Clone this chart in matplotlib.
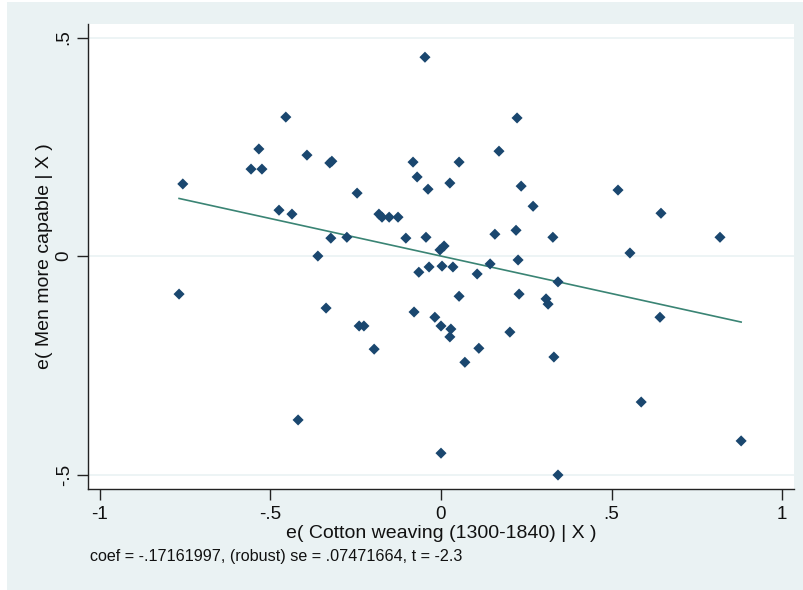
import numpy as np
import matplotlib
matplotlib.use('Agg')
from matplotlib import pyplot as plt
from matplotlib.patches import Rectangle

plt.rcParams['font.family'] = ['Liberation Sans', 'DejaVu Sans']

# residuals
x_res = [-0.757, -0.768, -0.557, -0.525, -0.534, -0.455, -0.393, -0.475, -0.437, -0.361,
         -0.326, -0.320, -0.246, -0.323, -0.276, -0.182, -0.173, -0.152, -0.126, -0.103,
         -0.082, -0.070, -0.038, -0.047, -0.044, -0.003, 0.009, 0.026, 0.053, -0.065,
         -0.035, 0.003, 0.035, 0.106, 0.170, 0.223, 0.235, 0.270, 0.158, 0.220,
         0.328, 0.519, 0.554, 0.645, 0.818, 0.144, 0.226, 0.343, 0.053, 0.229,
         0.308, 0.314, 0.202, 0.331, 0.642, 0.587, 0.880, 0.000, 0.343, -0.337,
         -0.240, -0.226, -0.196, -0.419, -0.079, -0.018, 0.000, 0.029, 0.026, 0.070,
         0.111]
y_res = [0.165, -0.087, 0.199, 0.199, 0.245, 0.318, 0.231, 0.105, 0.096, 0.000,
         0.213, 0.217, 0.144, 0.041, 0.043, 0.096, 0.089, 0.089, 0.089, 0.041,
         0.215, 0.181, 0.153, 0.455, 0.043, 0.014, 0.023, 0.167, 0.215, -0.037,
         -0.025, -0.023, -0.025, -0.041, 0.240, 0.316, 0.160, 0.114, 0.050, 0.059,
         0.043, 0.151, 0.007, 0.098, 0.043, -0.018, -0.009, -0.059, -0.092, -0.087,
         -0.098, -0.110, -0.174, -0.231, -0.140, -0.334, -0.423, -0.451, -0.501, -0.119,
         -0.160, -0.160, -0.213, -0.375, -0.128, -0.140, -0.160, -0.167, -0.185, -0.243,
         -0.211]

coef = -0.17161997
se = 0.07471664
tstat = -2.3

xticks = [-1, -0.5, 0, 0.5, 1]
xtick_labels = ['-1', '-.5', '0', '.5', '1']
yticks = [-0.5, 0, 0.5]
ytick_labels = ['-.5', '0', '.5']

bg = '#eaf2f3'
fig = plt.figure(figsize=(8.04, 5.9), dpi=100, facecolor='white')
fig.patches.append(Rectangle((7/804, 0), 1, 1 - 2/590, transform=fig.transFigure,
                             facecolor=bg, edgecolor='none', zorder=-10))
ax = fig.add_axes([88/804, 1 - 489/590, 706/804, 465/590])
ax.set_facecolor('white')

for yt in yticks:
    ax.axhline(yt, color=bg, lw=1.2, zorder=0)

ax.scatter(x_res, y_res, marker='D', s=32, color='#1a476f', edgecolors='none', zorder=3)

xs = np.array([min(x_res), max(x_res)])
ax.plot(xs, coef * xs, color='#3a8474', lw=1.2, zorder=2)

ax.set_xlim(-1.035, 1.035)
ax.set_ylim(-0.533, 0.531)
ax.set_xticks(xticks)
ax.set_xticklabels(xtick_labels)
ax.set_yticks(yticks)
ax.set_yticklabels(ytick_labels, rotation=90, va='center')

for s in ['top', 'right']:
    ax.spines[s].set_visible(False)
for s in ['left', 'bottom']:
    ax.spines[s].set_color('#222222')
    ax.spines[s].set_linewidth(1.0)
ax.tick_params(direction='out', length=8, width=1, color='#222222',
               labelsize=13.5, labelcolor='#111111', pad=4)
ax.tick_params(axis='y', pad=3)

ax.set_xlabel('e( Cotton weaving (1300-1840) | X )', fontsize=14, color='#111111', labelpad=2)
ax.set_ylabel('e( Men more capable | X )', fontsize=14, color='#111111', labelpad=2)

fig.text(90/804, 1 - 557/590,
         'coef = -.17161997, (robust) se = .07471664, t = -2.3',
         fontsize=11.6, color='#111111', va='center', ha='left')

plt.savefig('out.png', dpi=100, facecolor=fig.get_facecolor())
